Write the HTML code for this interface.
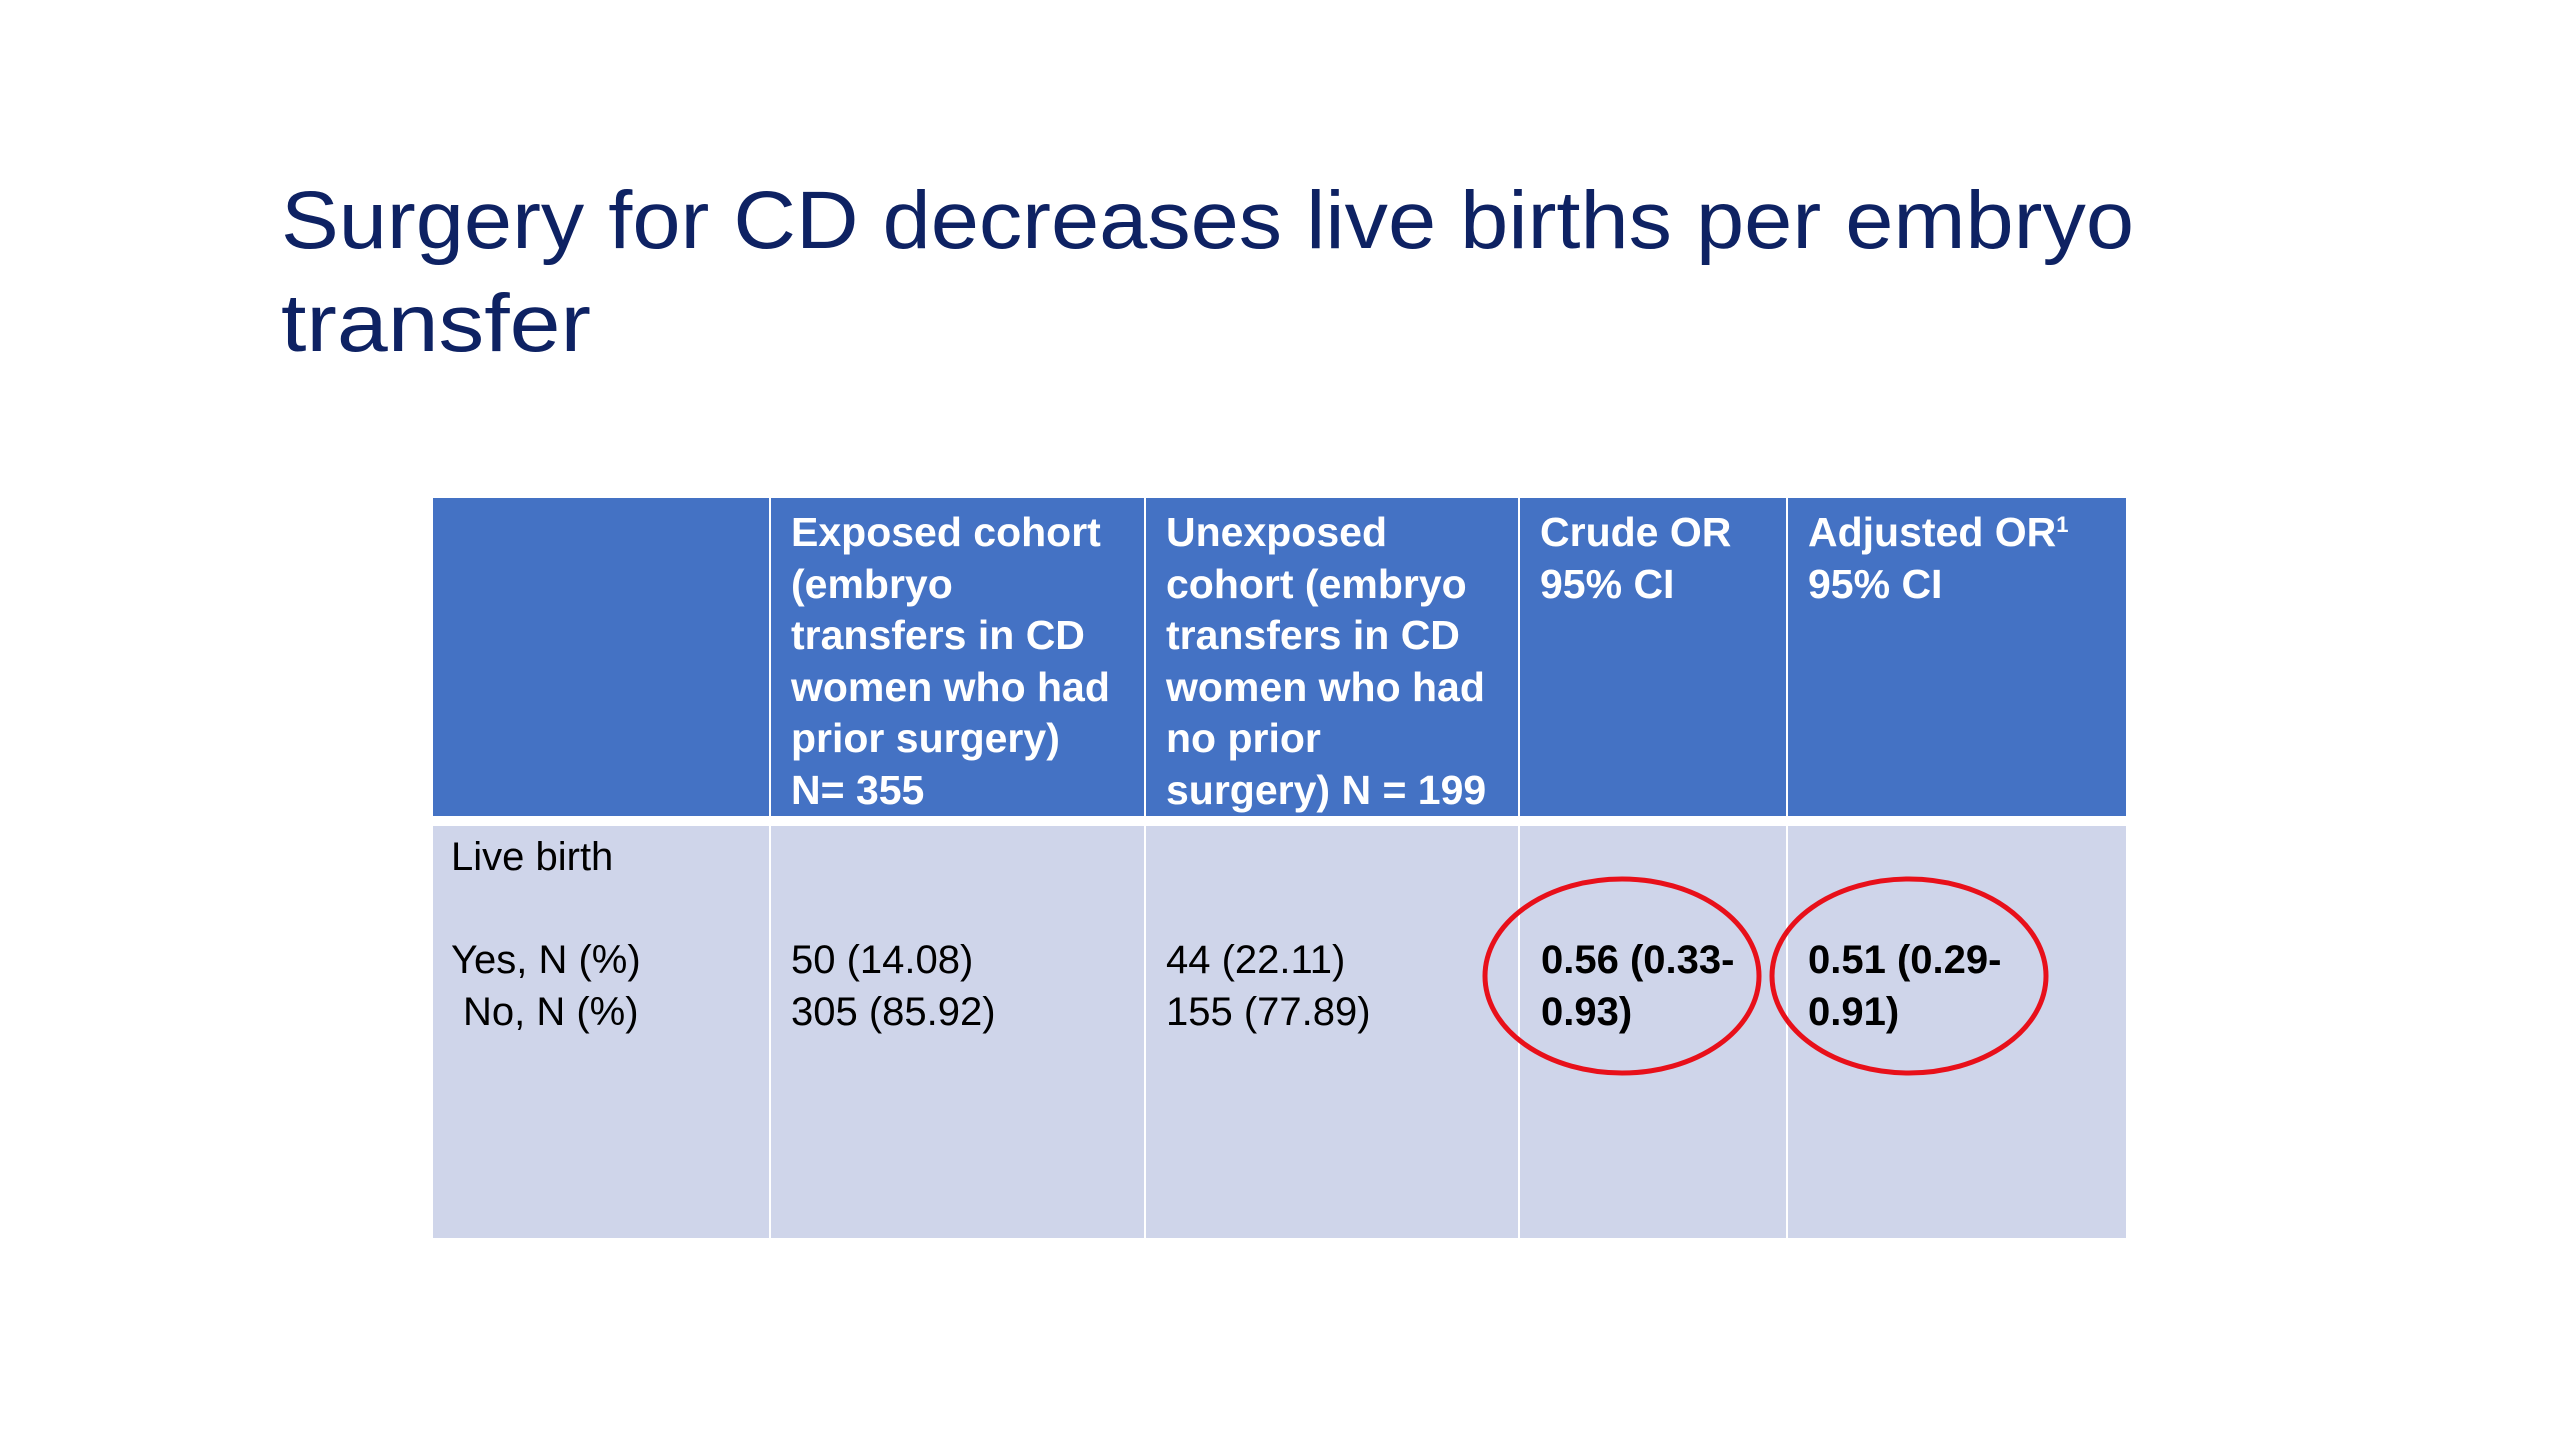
<!DOCTYPE html>
<html><head><meta charset="utf-8"><style>
body{margin:0;width:2560px;height:1440px;background:#fff;position:relative;overflow:hidden;font-family:"Liberation Sans",Arial,sans-serif}
.c{position:absolute;box-sizing:border-box}
.h{background:#4472C4;color:#fff;font-weight:bold;font-size:41px;line-height:51.5px;padding:9px 0 0 20px}
.b{background:#CFD5EA;color:#000;font-size:40px;line-height:51.5px;padding:0 0 0 20px}
.t{position:absolute;white-space:nowrap}
</style></head><body>
<svg style="position:absolute;left:0;top:0" width="2560" height="400">
<text x="281" y="248" font-family="Liberation Sans, sans-serif" font-size="82" fill="#0E2263" textLength="1853" lengthAdjust="spacingAndGlyphs">Surgery for CD decreases live births per embryo</text>
<text x="281" y="351" font-family="Liberation Sans, sans-serif" font-size="82" fill="#0E2263" textLength="310" lengthAdjust="spacingAndGlyphs">transfer</text>
</svg>
<div>
<div class="c h" style="left:433px;top:498px;width:336px;height:318px"></div>
<div class="c h" style="left:771px;top:498px;width:373px;height:318px">Exposed cohort<br>(embryo<br>transfers in CD<br>women who had<br>prior surgery)<br>N= 355</div>
<div class="c h" style="left:1146px;top:498px;width:372px;height:318px">Unexposed<br>cohort (embryo<br>transfers in CD<br>women who had<br>no prior<br>surgery) N = 199</div>
<div class="c h" style="left:1520px;top:498px;width:266px;height:318px">Crude OR<br>95% CI</div>
<div class="c h" style="left:1788px;top:498px;width:338px;height:318px">Adjusted OR<sup style="font-size:22px;vertical-align:14px;line-height:0">1</sup><br>95% CI</div>

<div class="c b" style="left:433px;top:826px;width:336px;height:412px">
<div class="t" style="left:18px;top:6px">Live birth</div>
<div class="t" style="left:18px;top:109px">Yes, N (%)</div>
<div class="t" style="left:30px;top:161px">No, N (%)</div></div>
<div class="c b" style="left:771px;top:826px;width:373px;height:412px">
<div class="t" style="left:20px;top:109px">50 (14.08)<br>305 (85.92)</div></div>
<div class="c b" style="left:1146px;top:826px;width:372px;height:412px">
<div class="t" style="left:20px;top:109px">44 (22.11)<br>155 (77.89)</div></div>
<div class="c b" style="left:1520px;top:826px;width:266px;height:412px">
<div class="t" style="left:21px;top:109px;font-weight:bold">0.56 (0.33-<br>0.93)</div></div>
<div class="c b" style="left:1788px;top:826px;width:338px;height:412px">
<div class="t" style="left:20px;top:109px;font-weight:bold">0.51 (0.29-<br>0.91)</div></div>
</div>
<svg style="position:absolute;left:0;top:0" width="2560" height="1440">
<ellipse cx="1622" cy="976" rx="137" ry="97" fill="none" stroke="#E8101A" stroke-width="5"/>
<ellipse cx="1909" cy="976" rx="137" ry="97" fill="none" stroke="#E8101A" stroke-width="5"/>
</svg>
</body></html>
